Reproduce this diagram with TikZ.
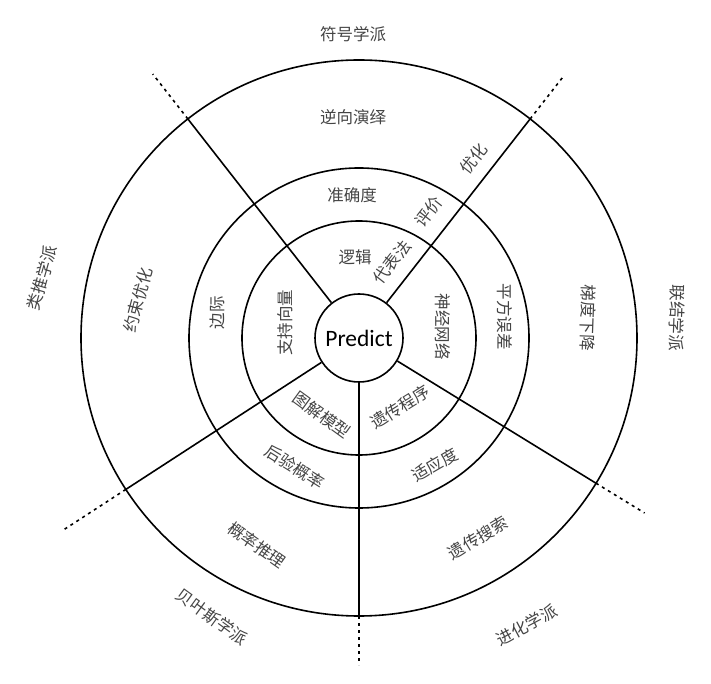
\documentclass[tikz,border=0pt]{standalone}
\usepackage{fontspec}
\newfontfamily\cjk{Noto Sans CJK SC}
\newfontfamily\lat{Carlito}
\definecolor{txt}{HTML}{444444}
\begin{document}
\begin{tikzpicture}[x=1pt,y=1pt,
  ring/.style={line width=1.6pt},
  spoke/.style={line width=1.6pt},
  dotext/.style={line width=1.6pt,dash pattern=on 3pt off 4pt},
  lbl/.style={font=\cjk\fontsize{16.5}{16.5}\selectfont,text=txt,inner sep=0pt}]
\useasboundingbox (-359,-346) rectangle (352,338);
% rings
\draw[ring] (0,0) circle (117);
\draw[ring] (0,0) circle (170);
\draw[ring] (0,0) circle (278);
\node[circle,draw,line width=1.6pt,minimum size=88pt,inner sep=0pt,font=\lat\fontsize{23.5}{23.5}\selectfont] (p) at (0,0) {Predict};
% spoke ends
\foreach \n/\a/\e in {a/52/332,b/128/335,c/-31.5/335,d/-147/354,e/-90/327}{
  \coordinate (\n o) at (\a:278);
  \coordinate (\n x) at (\a:\e);
  \draw[spoke] (p.\a) -- (\n o);
  \draw[dotext] (\n o) -- (\n x);
}
% labels
\node[lbl] (t1) at (-6,304) {符号学派};
\node[lbl] (t2) at (-6,221) {逆向演绎};
\node[lbl] (t3) at (-7,143) {准确度};
\node[lbl] (t4) at (-4,81) {逻辑};
\node[lbl,rotate=52] (t5) at (33,76) {代表法};
\node[lbl,rotate=52] (t6) at (70,126) {评价};
\node[lbl,rotate=52] (t7) at (115,179) {优化};
\node[lbl,rotate=90] (t8) at (-74,15) {支持向量};
\node[lbl,rotate=90] (t9) at (-142,25) {边际};
\node[lbl,rotate=75] (t10) at (-221,38) {约束优化};
\node[lbl,rotate=74] (t11) at (-317,60) {类推学派};
\node[lbl,rotate=-90] (t12) at (84,11) {神经网络};
\node[lbl,rotate=-90] (t13) at (146,21) {平方误差};
\node[lbl,rotate=-92] (t14) at (229,20) {梯度下降};
\node[lbl,rotate=-92] (t15) at (318,20) {联结学派};
\node[lbl,rotate=-36] (t16) at (-37,-77) {图解模型};
\node[lbl,rotate=-32] (t17) at (-64,-129) {后验概率};
\node[lbl,rotate=-35] (t18) at (-102,-207) {概率推理};
\node[lbl,rotate=-36] (t19) at (-147,-279) {贝叶斯学派};
\node[lbl,rotate=32] (t20) at (41,-69) {遗传程序};
\node[lbl,rotate=30] (t21) at (76,-127) {适应度};
\node[lbl,rotate=31] (t22) at (119,-200) {遗传搜索};
\node[lbl,rotate=28] (t23) at (168,-287) {进化学派};
\end{tikzpicture}
\end{document}
